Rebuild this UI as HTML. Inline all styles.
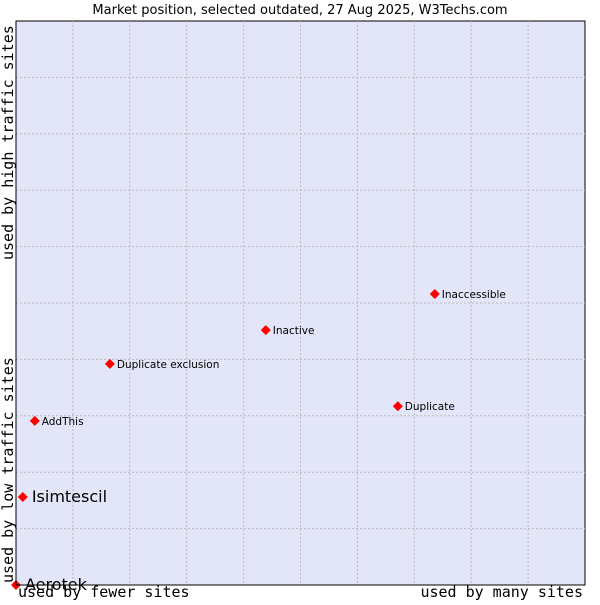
<!DOCTYPE html>
<html><head><meta charset="utf-8"><style>
body{margin:0;background:#fff;}
svg text{font-family:"DejaVu Sans","Liberation Sans",sans-serif;}
</style></head><body>
<svg id="chart" width="600" height="600" xmlns="http://www.w3.org/2000/svg">
<text x="300" y="14" font-size="13" text-anchor="middle">Market position, selected outdated, 27 Aug 2025, W3Techs.com</text>
<rect x="16" y="21" width="569" height="564" fill="#e3e5f8" stroke="#000" stroke-width="1"/>
<g id="grid"></g>
<g id="points"></g>
<line x1="16" y1="21" x2="16" y2="585" stroke="#000"/>
<line x1="16" y1="585" x2="585" y2="585" stroke="#000"/>
<text x="18" y="597" font-size="15" style="font-family:'DejaVu Sans Mono','Liberation Mono',monospace">used by fewer sites</text>
<text x="583" y="597" font-size="15" text-anchor="end" style="font-family:'DejaVu Sans Mono','Liberation Mono',monospace">used by many sites</text>
<text transform="translate(13,583) rotate(-90)" font-size="15" style="font-family:'DejaVu Sans Mono','Liberation Mono',monospace">used by low traffic sites</text>
<text transform="translate(13,260) rotate(-90)" font-size="15" style="font-family:'DejaVu Sans Mono','Liberation Mono',monospace">used by high traffic sites</text>
</svg>
<script>
const names=["Aerotek","Isimtescil","AddThis","Duplicate exclusion","Inactive","Inaccessible","Duplicate"];
const xVals=[0,1.2,3.3,16.5,43.9,73.6,67.1];
const yVals=[0,15.6,29.1,39.2,45.2,51.6,31.7];
const bigLabels=[true,true,false,false,false,false,false];
const NS="http://www.w3.org/2000/svg";
const L=16,R=585,T=21,B=585;
const sx=v=>L+v/100*(R-L), sy=v=>B-v/100*(B-T);
const grid=document.getElementById('grid');
for(let i=1;i<10;i++){
  const v=document.createElementNS(NS,'line');
  
  
  v.setAttribute('x1',sx(i*10));v.setAttribute('x2',sx(i*10));v.setAttribute('y1',T);v.setAttribute('y2',B);
  v.setAttribute('stroke','#bbb');v.setAttribute('stroke-dasharray','2,2');grid.appendChild(v);
  const h=document.createElementNS(NS,'line');
  
  
  h.setAttribute('y1',sy(i*10));h.setAttribute('y2',sy(i*10));h.setAttribute('x1',L);h.setAttribute('x2',R);
  h.setAttribute('stroke','#bbb');h.setAttribute('stroke-dasharray','2,2');grid.appendChild(h);
}
const pts=document.getElementById('points');
names.forEach((n,i)=>{
  const x=sx(xVals[i]),y=sy(yVals[i]);
  const d=document.createElementNS(NS,'path');
  
  
  d.setAttribute('d',`M${x-5},${y} L${x},${y-5} L${x+5},${y} L${x},${y+5} Z`);
  d.setAttribute('fill','#f00');pts.appendChild(d);
  const t=document.createElementNS(NS,'text');
  
  
  t.setAttribute('x',x+(bigLabels[i]?9:7));
  t.setAttribute('y',y+(bigLabels[i]?5:4));
  t.setAttribute('font-size',bigLabels[i]?16:10.5);
  t.textContent=n;pts.appendChild(t);
});
</script>
</body></html>
